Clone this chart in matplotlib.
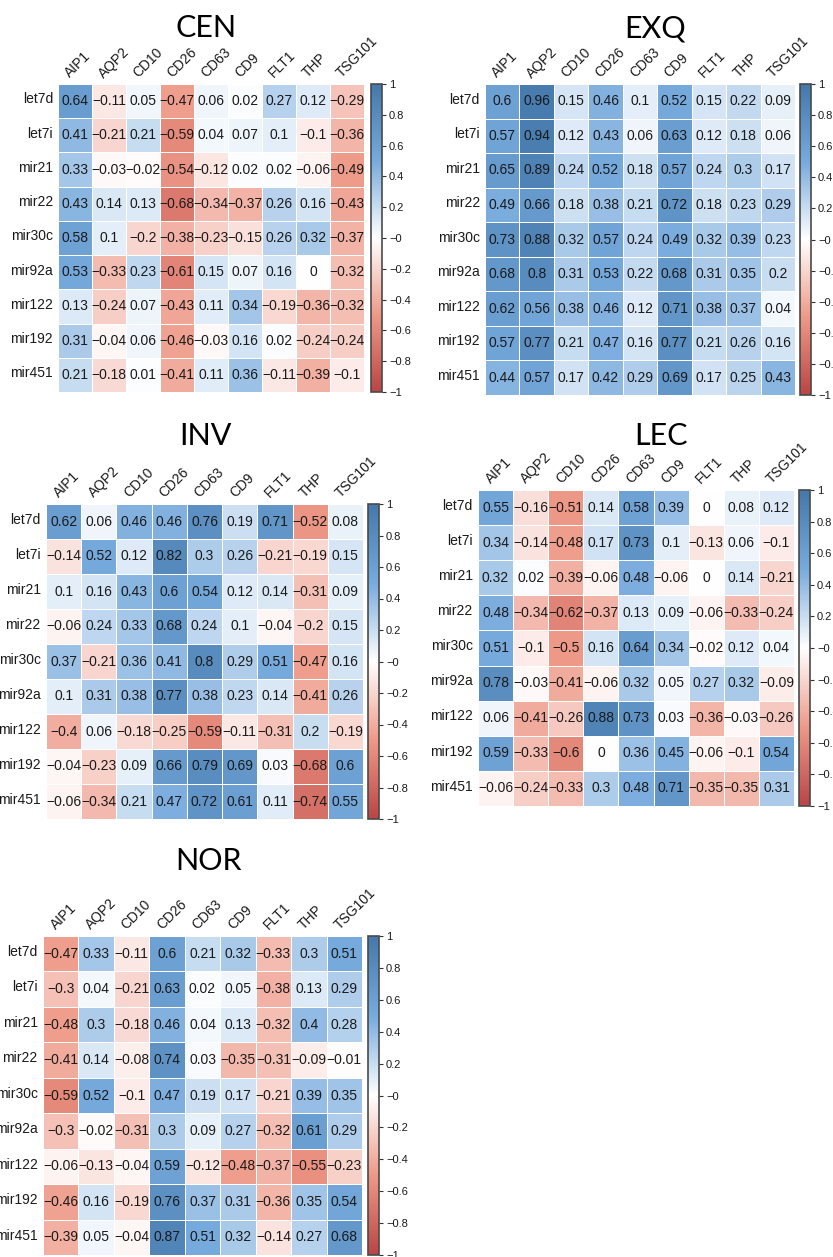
import numpy as np
import matplotlib
matplotlib.use("Agg")
import matplotlib.pyplot as plt
from matplotlib.colors import LinearSegmentedColormap

plt.rcParams['font.family'] = ['Liberation Sans', 'DejaVu Sans']

genes = ["AIP1", "AQP2", "CD10", "CD26", "CD63", "CD9", "FLT1", "THP", "TSG101"]
mirnas = ["let7d", "let7i", "mir21", "mir22", "mir30c", "mir92a", "mir122", "mir192", "mir451"]

cen = [
    [0.64, -0.11, 0.05, -0.47, 0.06, 0.02, 0.27, 0.12, -0.29],
    [0.41, -0.21, 0.21, -0.59, 0.04, 0.07, 0.1, -0.1, -0.36],
    [0.33, -0.03, -0.02, -0.54, -0.12, 0.02, 0.02, -0.06, -0.49],
    [0.43, 0.14, 0.13, -0.68, -0.34, -0.37, 0.26, 0.16, -0.43],
    [0.58, 0.1, -0.2, -0.38, -0.23, -0.15, 0.26, 0.32, -0.37],
    [0.53, -0.33, 0.23, -0.61, 0.15, 0.07, 0.16, 0, -0.32],
    [0.13, -0.24, 0.07, -0.43, 0.11, 0.34, -0.19, -0.36, -0.32],
    [0.31, -0.04, 0.06, -0.46, -0.03, 0.16, 0.02, -0.24, -0.24],
    [0.21, -0.18, 0.01, -0.41, 0.11, 0.36, -0.11, -0.39, -0.1],
]
exq = [
    [0.6, 0.96, 0.15, 0.46, 0.1, 0.52, 0.15, 0.22, 0.09],
    [0.57, 0.94, 0.12, 0.43, 0.06, 0.63, 0.12, 0.18, 0.06],
    [0.65, 0.89, 0.24, 0.52, 0.18, 0.57, 0.24, 0.3, 0.17],
    [0.49, 0.66, 0.18, 0.38, 0.21, 0.72, 0.18, 0.23, 0.29],
    [0.73, 0.88, 0.32, 0.57, 0.24, 0.49, 0.32, 0.39, 0.23],
    [0.68, 0.8, 0.31, 0.53, 0.22, 0.68, 0.31, 0.35, 0.2],
    [0.62, 0.56, 0.38, 0.46, 0.12, 0.71, 0.38, 0.37, 0.04],
    [0.57, 0.77, 0.21, 0.47, 0.16, 0.77, 0.21, 0.26, 0.16],
    [0.44, 0.57, 0.17, 0.42, 0.29, 0.69, 0.17, 0.25, 0.43],
]
inv = [
    [0.62, 0.06, 0.46, 0.46, 0.76, 0.19, 0.71, -0.52, 0.08],
    [-0.14, 0.52, 0.12, 0.82, 0.3, 0.26, -0.21, -0.19, 0.15],
    [0.1, 0.16, 0.43, 0.6, 0.54, 0.12, 0.14, -0.31, 0.09],
    [-0.06, 0.24, 0.33, 0.68, 0.24, 0.1, -0.04, -0.2, 0.15],
    [0.37, -0.21, 0.36, 0.41, 0.8, 0.29, 0.51, -0.47, 0.16],
    [0.1, 0.31, 0.38, 0.77, 0.38, 0.23, 0.14, -0.41, 0.26],
    [-0.4, 0.06, -0.18, -0.25, -0.59, -0.11, -0.31, 0.2, -0.19],
    [-0.04, -0.23, 0.09, 0.66, 0.79, 0.69, 0.03, -0.68, 0.6],
    [-0.06, -0.34, 0.21, 0.47, 0.72, 0.61, 0.11, -0.74, 0.55],
]
lec = [
    [0.55, -0.16, -0.51, 0.14, 0.58, 0.39, 0, 0.08, 0.12],
    [0.34, -0.14, -0.48, 0.17, 0.73, 0.1, -0.13, 0.06, -0.1],
    [0.32, 0.02, -0.39, -0.06, 0.48, -0.06, 0, 0.14, -0.21],
    [0.48, -0.34, -0.62, -0.37, 0.13, 0.09, -0.06, -0.33, -0.24],
    [0.51, -0.1, -0.5, 0.16, 0.64, 0.34, -0.02, 0.12, 0.04],
    [0.78, -0.03, -0.41, -0.06, 0.32, 0.05, 0.27, 0.32, -0.09],
    [0.06, -0.41, -0.26, 0.88, 0.73, 0.03, -0.36, -0.03, -0.26],
    [0.59, -0.33, -0.6, 0, 0.36, 0.45, -0.06, -0.1, 0.54],
    [-0.06, -0.24, -0.33, 0.3, 0.48, 0.71, -0.35, -0.35, 0.31],
]
nor = [
    [-0.47, 0.33, -0.11, 0.6, 0.21, 0.32, -0.33, 0.3, 0.51],
    [-0.3, 0.04, -0.21, 0.63, 0.02, 0.05, -0.38, 0.13, 0.29],
    [-0.48, 0.3, -0.18, 0.46, 0.04, 0.13, -0.32, 0.4, 0.28],
    [-0.41, 0.14, -0.08, 0.74, 0.03, -0.35, -0.31, -0.09, -0.01],
    [-0.59, 0.52, -0.1, 0.47, 0.19, 0.17, -0.21, 0.39, 0.35],
    [-0.3, -0.02, -0.31, 0.3, 0.09, 0.27, -0.32, 0.61, 0.29],
    [-0.06, -0.13, -0.04, 0.59, -0.12, -0.48, -0.37, -0.55, -0.23],
    [-0.46, 0.16, -0.19, 0.76, 0.37, 0.31, -0.36, 0.35, 0.54],
    [-0.39, 0.05, -0.04, 0.87, 0.51, 0.32, -0.14, 0.27, 0.68],
]

# corrplot-style palette
cmap = LinearSegmentedColormap.from_list(
    "corr", ["#BB4444", "#EE9988", "#FFFFFF", "#77AADD", "#4477AA"])

W, H = 833, 1257
fig = plt.figure(figsize=(W / 100, H / 100), dpi=100)


def px_axes(left, top, right, bottom):
    return fig.add_axes([left / W, 1 - bottom / H, (right - left) / W, (bottom - top) / H])


def fmt(v):
    s = "%g" % v
    return s.replace("-", "\u2212")


def corr_panel(data, title, box, cbar_left, title_xy):
    left, top, right, bottom = box
    mat = np.array(data)
    ax = px_axes(left, top, right, bottom)
    mesh = ax.pcolormesh(mat, cmap=cmap, vmin=-1, vmax=1,
                         edgecolors="white", linewidth=0.6)
    ax.set_xlim(0, len(genes))
    ax.set_ylim(len(mirnas), 0)
    for s in ax.spines.values():
        s.set_visible(False)
    ax.set_xticks([])
    ax.set_yticks([])
    for i in range(mat.shape[0]):
        for j in range(mat.shape[1]):
            ax.text(j + 0.5, i + 0.5, fmt(mat[i, j]), ha="center", va="center",
                    fontsize=10, color="#1a1a1a")
    for i, name in enumerate(mirnas):
        ax.text(-0.15, i + 0.45, name, ha="right", va="center", fontsize=10,
                color="#1a1a1a")
    for j, name in enumerate(genes):
        ax.text(j + 0.42, -0.1, name, rotation=45, rotation_mode="anchor",
                ha="left", va="bottom", fontsize=10, color="#1a1a1a")

    cax = px_axes(cbar_left, top, cbar_left + 11, bottom)
    cb = fig.colorbar(mesh, cax=cax)
    ticks = np.round(np.arange(-1, 1.01, 0.2), 1)
    cb.set_ticks(ticks)
    cb.set_ticklabels([fmt(t) for t in ticks])
    cb.outline.set_edgecolor("#4a4a4a")
    cb.outline.set_linewidth(1.2)
    cax.tick_params(labelsize=8, length=3, width=0.8, color="#333333",
                    labelcolor="#1a1a1a", pad=2)

    fig.text(title_xy[0] / W, 1 - title_xy[1] / H, title, ha="center", va="center",
             fontsize=22, family=["Lato", "DejaVu Sans"])


corr_panel(cen, "CEN", (58, 84, 364, 392), 371, (206, 28))
corr_panel(exq, "EXQ", (485, 84, 795, 395), 800, (655, 28))
corr_panel(inv, "INV", (46, 504, 363, 819), 368, (205, 436))
corr_panel(lec, "LEC", (478, 490, 794, 806), 799, (661, 436))
corr_panel(nor, "NOR", (43, 936, 362, 1255), 368, (208, 861))

fig.savefig("out.png", dpi=100, facecolor="white")
